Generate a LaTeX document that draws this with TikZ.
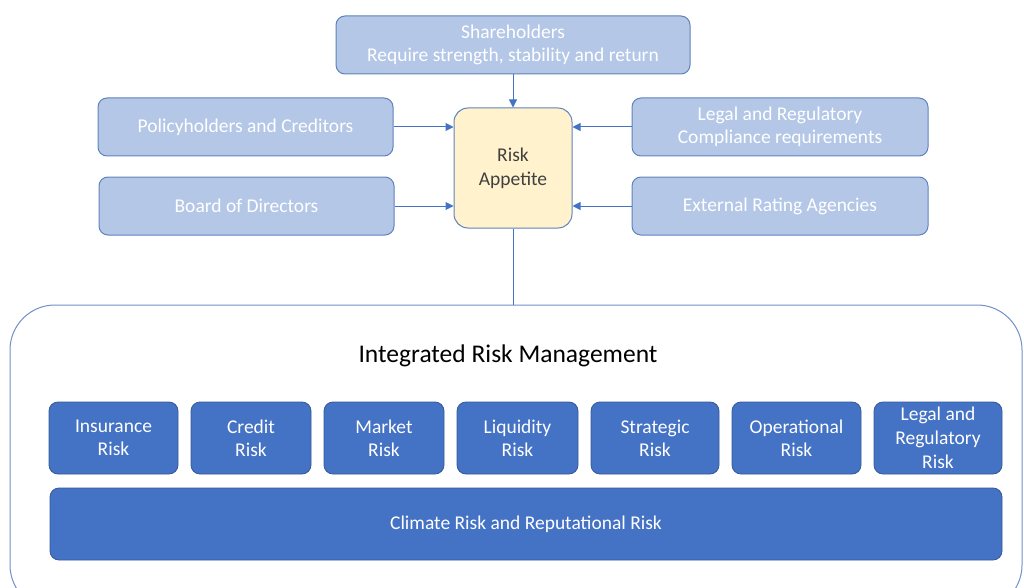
\documentclass[tikz,border=0pt]{standalone}
\usepackage{fontspec}
\setmainfont{Carlito}
\usetikzlibrary{arrows.meta}
\definecolor{lightfill}{HTML}{B4C7E7}
\definecolor{lightline}{HTML}{5F82BC}
\definecolor{darkfill}{HTML}{4472C4}
\definecolor{darkline}{HTML}{35599A}
\definecolor{yellowfill}{HTML}{FFF2CC}
\definecolor{arrowc}{HTML}{4472C4}
\definecolor{bigline}{HTML}{7090C8}
\definecolor{txtgray}{HTML}{404040}
\tikzset{
  lightbox/.style={draw=lightline, fill=lightfill, line width=1pt, rounded corners=9pt,
    text=white, font=\fontsize{19.5}{23}\selectfont, align=center, inner sep=0pt},
  darkbox/.style={draw=darkline, fill=darkfill, line width=0.8pt, rounded corners=9pt,
    text=white, font=\fontsize{19.5}{23}\selectfont, align=center, inner sep=0pt,
    minimum height=72pt},
  appbox/.style={draw=lightline, fill=yellowfill, line width=1pt, rounded corners=14pt,
    text=txtgray, font=\fontsize{19.5}{24}\selectfont, align=center, inner sep=0pt},
  arr/.style={draw=arrowc, line width=1pt, -{Triangle[length=8pt,width=8pt]}},
  conn/.style={draw=arrowc, line width=1pt},
}
\begin{document}
\begin{tikzpicture}[x=1pt,y=-1pt]
\useasboundingbox (0,0) rectangle (1024,588);
\clip (0,0) rectangle (1024,588);
% big container
\draw[draw=bigline, line width=1pt, rounded corners=45pt] (10,305) rectangle (1022,610);
\coordinate (bigtop) at (513,305);
\node[font=\fontsize{25.5}{30}\selectfont, text=black] (irm) at (508,356) {Integrated Risk Management};

% top boxes
\node[lightbox, minimum width=354pt, minimum height=58pt] (sh) at (513,45) {Shareholders\\Require strength, stability and return};
\node[appbox, minimum width=118pt, minimum height=120pt] (ra) at (513,168) {Risk\\Appetite};
\node[lightbox, minimum width=295pt, minimum height=58pt] (pc) at (245.5,127) {Policyholders and Creditors};
\node[lightbox, minimum width=295pt, minimum height=58pt] (bd) at (246.5,206) {Board of Directors};
\node[lightbox, minimum width=296pt, minimum height=58pt] (lr) at (780,127) {Legal and Regulatory\\Compliance requirements};
\node[lightbox, minimum width=296pt, minimum height=58pt] (er) at (780,206) {External Rating Agencies};

\draw[arr] (sh.south) -- (ra.north);
\draw[arr] (pc.east) -- (pc.east -| ra.west);
\draw[arr] (bd.east) -- (bd.east -| ra.west);
\draw[arr] (lr.west) -- (lr.west -| ra.east);
\draw[arr] (er.west) -- (er.west -| ra.east);
\draw[conn] (ra.south) -- (bigtop);

% risk boxes
\node[darkbox, minimum width=129pt] (ins) at (113.5,438) {Insurance\\Risk};
\node[darkbox, minimum width=120pt] (cre) at (251,438) {Credit\\Risk};
\node[darkbox, minimum width=120pt] (mkt) at (384,438) {Market\\Risk};
\node[darkbox, minimum width=121pt] (liq) at (517.5,438) {Liquidity\\Risk};
\node[darkbox, minimum width=128pt] (str) at (655,438) {Strategic\\Risk};
\node[darkbox, minimum width=129pt] (ope) at (796.5,438) {Operational\\Risk};
\node[darkbox, minimum width=128pt, font=\fontsize{19.5}{24}\selectfont] (leg) at (938,438) {Legal and\\Regulatory\\Risk};
\node[darkbox, minimum width=952pt] (cli) at (526,524) {Climate Risk and Reputational Risk};
\end{tikzpicture}
\end{document}
